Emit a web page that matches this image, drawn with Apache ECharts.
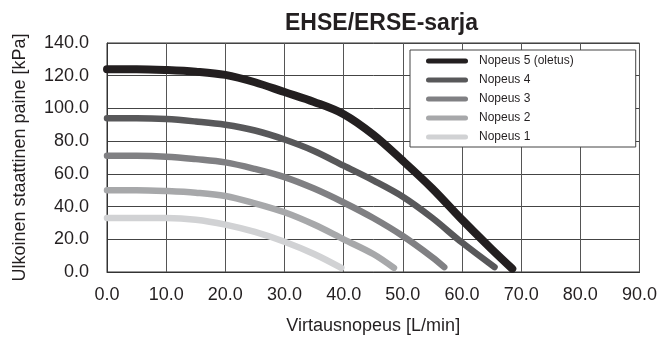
<!DOCTYPE html>
<html>
<head>
<meta charset="utf-8">
<script src="https://cdn.jsdelivr.net/npm/echarts@6/dist/echarts.min.js"></script>
<style>html,body{margin:0;padding:0;background:#fff}#c{width:660px;height:340px}</style>
</head>
<body>
<div id="c"></div>
<script>
const seriesNames = ['Nopeus 5 (oletus)', 'Nopeus 4', 'Nopeus 3', 'Nopeus 2', 'Nopeus 1'];
const speed5 = [[0,124],[5,124],[10,123.5],[15,122.5],[20,120.5],[25,116],[30,110],[35,104],[40,96.5],[45,84],[50,68],[55,51],[60,32],[65,14],[68.5,2]];
const speed4 = [[0,94],[5,94],[10,93.5],[15,92],[20,90],[25,86.5],[30,81],[35,74],[40,65],[45,56],[50,46],[55,33],[60,18],[65.5,3]];
const speed3 = [[0,71],[5,71],[10,70.5],[15,69],[20,67],[25,63],[30,58],[35,51],[40,42.5],[45,33],[50,22],[55,9],[57,3]];
const speed2 = [[0,50],[5,50],[10,49.5],[15,48.5],[20,46.5],[25,42],[30,36.5],[35,29],[40,20],[45,11],[48.5,2.5]];
const speed1 = [[0,33],[5,33],[10,33],[15,32],[20,29],[25,24.5],[30,18.5],[35,11],[39.6,2.5]];
const xTicks = [0,10,20,30,40,50,60,70,80,90];
const yTicks = [0,20,40,60,80,100,120,140];

const colors = ['#231f20', '#58585a', '#808083', '#a7a8aa', '#d1d2d4'];
const widths = [8, 6.5, 6.5, 6.5, 6.5];
const datasets = [speed5, speed4, speed3, speed2, speed1];

const chart = echarts.init(document.getElementById('c'), null, {renderer: 'canvas'});
const font = 'Liberation Sans, Arial, sans-serif';
chart.setOption({
  animation: false,
  color: colors,
  title: {
    text: 'EHSE/ERSE-sarja',
    left: 280, top: 7,
    textStyle: {fontFamily: font, fontSize: 23, fontWeight: 'bold', color: '#231f20'}
  },
  legend: {
    orient: 'vertical',
    left: 410, top: 50,
    data: seriesNames,
    icon: 'path://M2.5,0 L39.5,0 A2.5,2.5 0 0 1 39.5,5 L2.5,5 A2.5,2.5 0 0 1 2.5,0 Z',
    itemWidth: 42, itemHeight: 5, itemGap: 5,
    padding: [4, 62, 3, 16],
    backgroundColor: '#fff',
    borderColor: '#444', borderWidth: 1,
    textStyle: {fontFamily: font, fontSize: 12, color: '#231f20', lineHeight: 14, padding: [0, 0, 0, 6]}
  },
  grid: {left: 107, right: 20, top: 43, bottom: 63, show: true, borderColor: '#333', borderWidth: 1, backgroundColor: 'transparent'},
  xAxis: {
    type: 'value', min: xTicks[0], max: xTicks[xTicks.length - 1], interval: 10,
    name: 'Virtausnopeus [L/min]', nameLocation: 'middle', nameGap: 45,
    nameTextStyle: {fontFamily: font, fontSize: 18, color: '#231f20'},
    axisLine: {show: true, lineStyle: {color: '#333', width: 1}},
    axisTick: {show: false},
    axisLabel: {fontFamily: font, fontSize: 18, color: '#231f20', margin: 14, formatter: v => v.toFixed(1)},
    splitLine: {show: true, lineStyle: {color: '#555', width: 1}}
  },
  yAxis: {
    type: 'value', min: yTicks[0], max: yTicks[yTicks.length - 1], interval: 20,
    name: 'Ulkoinen staattinen paine [kPa]', nameLocation: 'middle', nameGap: 78, nameRotate: 90,
    nameTextStyle: {fontFamily: font, fontSize: 18, color: '#231f20'},
    axisLine: {show: true, lineStyle: {color: '#333', width: 1}},
    axisTick: {show: false},
    axisLabel: {fontFamily: font, fontSize: 18, color: '#231f20', margin: 18, formatter: v => v.toFixed(1)},
    splitLine: {show: true, lineStyle: {color: '#444', width: 1}}
  },
  series: seriesNames.map((n, i) => ({
    name: n, type: 'line', data: datasets[i], smooth: 0.35, showSymbol: false, symbol: 'none',
    z: 10 - i,
    lineStyle: {color: colors[i], width: widths[i], cap: 'round', join: 'round'},
    itemStyle: {color: colors[i]}
  }))
});
</script>
</body>
</html>
